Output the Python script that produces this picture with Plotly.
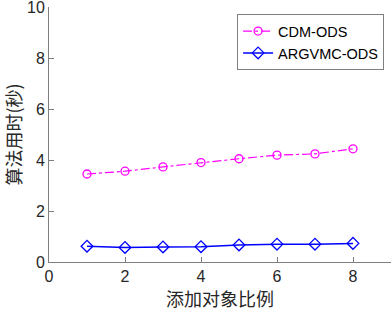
import plotly.graph_objects as go

x_vals = [1, 2, 3, 4, 5, 6, 7, 8]
cdm_ods = [3.45, 3.56, 3.73, 3.90, 4.05, 4.19, 4.24, 4.44]
argvmc_ods = [0.62, 0.57, 0.59, 0.60, 0.67, 0.70, 0.70, 0.73]
x_ticks = [0, 2, 4, 6, 8]
y_ticks = [0, 2, 4, 6, 8, 10]

fig = go.Figure()
fig.add_trace(go.Scatter(
    x=x_vals, y=cdm_ods, name="CDM-ODS", mode="lines+markers",
    line=dict(color="#ff00ff", width=1.2, dash="dashdot"),
    marker=dict(symbol="circle-open", size=8, color="#ff00ff", line=dict(width=1.3)),
))
fig.add_trace(go.Scatter(
    x=x_vals, y=argvmc_ods, name="ARGVMC-ODS", mode="lines+markers",
    line=dict(color="#0000ff", width=1.5),
    marker=dict(symbol="diamond-open", size=9, color="#0000ff", line=dict(width=1.3)),
))

axis_common = dict(
    showgrid=False, zeroline=False, showline=True, linecolor="#7f7f7f", linewidth=1,
    ticks="inside", ticklen=5, tickcolor="#7f7f7f", automargin=False,
    ticklabeloverflow="allow",
    tickfont=dict(family="Liberation Sans, Arial", size=16, color="#262626"),
)
fig.update_layout(
    width=392, height=314,
    margin=dict(l=49, r=1, t=7, b=52),
    paper_bgcolor="white", plot_bgcolor="white",
    showlegend=True,
    legend=dict(
        x=0.55, y=0.972, xanchor="left", yanchor="top",
        bgcolor="white", bordercolor="#7f7f7f", borderwidth=1,
        font=dict(family="Liberation Sans, Arial", size=14.5, color="#000"),
        tracegroupgap=0, itemwidth=30,
    ),
    xaxis=dict(axis_common, range=[0, 9], tickvals=x_ticks,
               title=dict(text="添加对象比例", standoff=4,
                          font=dict(family="Noto Sans CJK SC", size=18, color="#262626"))),
    yaxis=dict(axis_common, range=[0, 10], tickvals=y_ticks,
               title=dict(text="算法用时(秒)", standoff=6,
                          font=dict(family="Noto Sans CJK SC", size=18, color="#262626"))),
)
fig.write_html("out.html", config={"displayModeBar": False},
               post_script="document.body.style.margin='0';document.body.style.overflow='hidden';")
